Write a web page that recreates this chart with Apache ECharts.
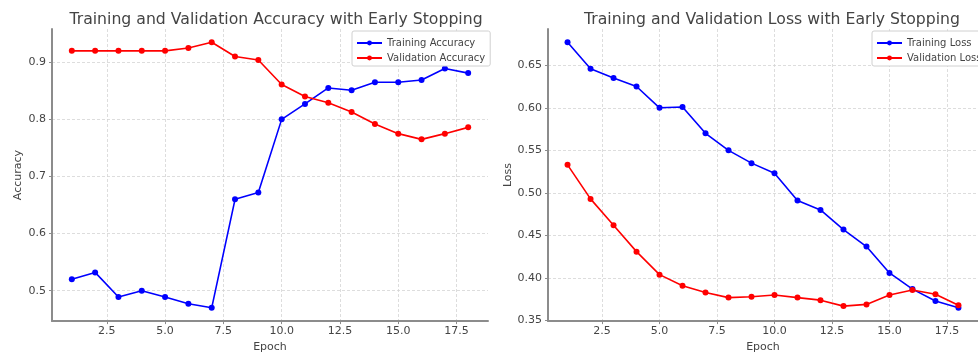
<!DOCTYPE html>
<html>
<head>
<meta charset="utf-8">
<script src="https://cdn.jsdelivr.net/npm/echarts@6/dist/echarts.min.js"></script>
<style>
  html, body { margin: 0; padding: 0; background: #fff; }
  #chart { width: 978px; height: 358px; }
</style>
</head>
<body>
<div id="chart"></div>
<script>
const epochs = [1, 2, 3, 4, 5, 6, 7, 8, 9, 10, 11, 12, 13, 14, 15, 16, 17, 18]

const trainAcc = [0.520, 0.532, 0.489, 0.500, 0.489, 0.477, 0.470, 0.660, 0.672, 0.800,
  0.827, 0.855, 0.851, 0.865, 0.865, 0.869, 0.889, 0.881]
const valAcc = [0.920, 0.920, 0.920, 0.920, 0.920, 0.925, 0.935, 0.910, 0.904, 0.861,
  0.840, 0.829, 0.813, 0.792, 0.775, 0.765, 0.775, 0.786]

const trainLoss = [0.677, 0.646, 0.635, 0.625, 0.600, 0.601, 0.570, 0.550, 0.535, 0.523,
  0.491, 0.480, 0.457, 0.437, 0.406, 0.387, 0.373, 0.365]
const valLoss = [0.533, 0.493, 0.462, 0.431, 0.404, 0.391, 0.383, 0.377, 0.378, 0.380,
  0.377, 0.374, 0.367, 0.369, 0.380, 0.386, 0.381, 0.368]

const epochTicks = [2.5, 5, 7.5, 10, 12.5, 15, 17.5]
const accTicks = [0.5, 0.6, 0.7, 0.8, 0.9]
const lossTicks = [0.35, 0.40, 0.45, 0.50, 0.55, 0.60, 0.65]

const pairs = (vals) => epochs.map((e, i) => [e, vals[i]])

const textColor = '#444'
const fontFamily = 'DejaVu Sans'

// matplotlib-like 5% margins
const pad = (arr) => {
  const lo = Math.min(...arr), hi = Math.max(...arr)
  const m = (hi - lo) * 0.05
  return [lo - m, hi + m]
}
const xr = pad(epochs)
const accR = pad(trainAcc.concat(valAcc))
const lossR = pad(trainLoss.concat(valLoss))

function xAxis(gridIndex) {
  return {
    type: 'value',
    gridIndex,
    min: xr[0],
    max: xr[1],
    name: 'Epoch',
    nameLocation: 'middle',
    nameGap: 20,
    nameTextStyle: { color: textColor, fontSize: 11, fontFamily },
    axisLine: { lineStyle: { color: '#8c8c8c', width: 2 } },
    axisTick: { show: true, length: 3, customValues: epochTicks, lineStyle: { color: '#8c8c8c' } },
    axisLabel: { customValues: epochTicks, margin: 5, color: textColor, fontSize: 11, fontFamily,
      formatter: v => v.toFixed(1) },
    splitLine: { show: true, lineStyle: { color: '#d4d4d4', type: [3, 2], width: 0.8 } }
  }
}

function yAxis(gridIndex, range, ticks, name, gap, digits) {
  return {
    type: 'value',
    gridIndex,
    min: range[0],
    max: range[1],
    name,
    nameLocation: 'middle',
    nameGap: gap,
    nameTextStyle: { color: textColor, fontSize: 11, fontFamily },
    axisLine: { show: true, lineStyle: { color: '#8c8c8c', width: 2 } },
    axisTick: { show: true, length: 3, customValues: ticks, lineStyle: { color: '#8c8c8c' } },
    axisLabel: { customValues: ticks, margin: 6, color: textColor, fontSize: 11, fontFamily,
      formatter: v => v.toFixed(digits) },
    splitLine: { show: true, lineStyle: { color: '#d4d4d4', type: [3, 2], width: 0.8 } }
  }
}

function line(name, vals, color, idx) {
  return {
    name,
    type: 'line',
    xAxisIndex: idx,
    yAxisIndex: idx,
    data: pairs(vals),
    symbol: 'circle',
    symbolSize: 6,
    color,
    lineStyle: { color, width: 1.6 },
    itemStyle: { color },
    emphasis: { disabled: true },
    animation: false
  }
}

function legend(left, names) {
  return {
    orient: 'vertical',
    left,
    top: 31,
    data: names,
    itemWidth: 25,
    itemHeight: 6,
    itemGap: 5,
    padding: [7, 5, 3, 4],
    borderColor: '#d0d0d0',
    borderWidth: 1,
    borderRadius: 2,
    backgroundColor: '#fff',
    textStyle: { color: textColor, fontSize: 10, fontFamily }
  }
}

const chart = echarts.init(document.getElementById('chart'))

chart.setOption({
  animation: false,
  title: [
    { text: 'Training and Validation Accuracy with Early Stopping', left: 271, top: 7, textAlign: 'center',
      textStyle: { color: textColor, fontSize: 15.7, fontWeight: 'normal', fontFamily } },
    { text: 'Training and Validation Loss with Early Stopping', left: 767, top: 7, textAlign: 'center',
      textStyle: { color: textColor, fontSize: 15.7, fontWeight: 'normal', fontFamily } }
  ],
  legend: [
    legend(352, ['Training Accuracy', 'Validation Accuracy']),
    legend(872, ['Training Loss', 'Validation Loss'])
  ],
  grid: [
    { left: 52, top: 29, width: 436, height: 295 },
    { left: 548, top: 29, width: 439, height: 295 }
  ],
  xAxis: [xAxis(0), xAxis(1)],
  yAxis: [
    yAxis(0, accR, accTicks, 'Accuracy', 28, 1),
    yAxis(1, lossR, lossTicks, 'Loss', 34, 2)
  ],
  series: [
    line('Training Accuracy', trainAcc, '#0000ff', 0),
    line('Validation Accuracy', valAcc, '#ff0000', 0),
    line('Training Loss', trainLoss, '#0000ff', 1),
    line('Validation Loss', valLoss, '#ff0000', 1)
  ]
})
</script>
</body>
</html>
